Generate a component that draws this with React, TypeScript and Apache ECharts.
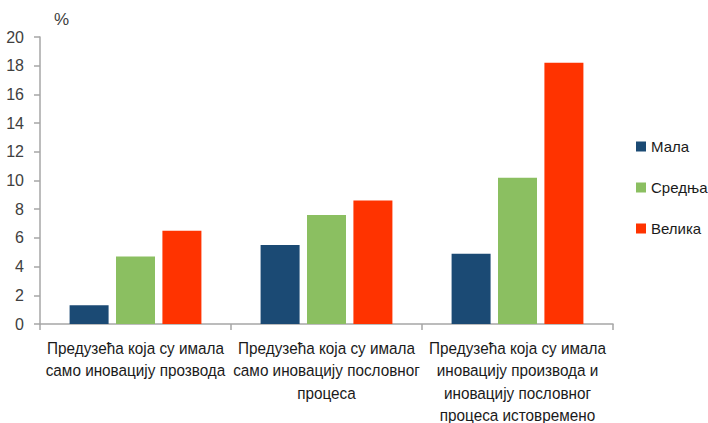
import React, { useEffect, useRef } from "react";
import * as echarts from "echarts";

const categories = [
  "Предузећа која су имала\nсамо иновацију прозвода",
  "Предузећа која су имала\nсамо иновацију пословног\nпроцеса",
  "Предузећа која су имала\nиновацију производа и\nиновацију пословног\nпроцеса истовремено",
];
const seriesNames = ["Мала", "Средња", "Велика"];
const mala = [1.3, 5.5, 4.9];
const srednja = [4.7, 7.6, 10.2];
const velika = [6.5, 8.6, 18.2];
const colors = ["#1B4A74", "#8BBF61", "#FF3300"];
const yTicks = { min: 0, max: 20, interval: 2 };

const FONT = "'Liberation Sans', Arial, sans-serif";

export default function App() {
  const ref = useRef<HTMLDivElement>(null);
  useEffect(() => {
    if (!ref.current) return;
    const chart = echarts.init(ref.current, undefined, { renderer: "svg" });
    const data = [mala, srednja, velika];
    chart.setOption({
      animation: false,
      textStyle: { fontFamily: FONT },
      grid: { left: 40, right: 95, top: 37, bottom: 99, containLabel: false, outerBoundsMode: "none" },
      legend: {
        orient: "vertical",
        left: 636,
        top: 139,
        padding: 0,
        itemWidth: 10,
        itemHeight: 10,
        itemGap: 26,
        icon: "rect",
        textStyle: { fontFamily: FONT, fontSize: 15, color: "#1a1a1a", overflow: "none", width: 80 },
        data: seriesNames,
      },
      xAxis: {
        type: "category",
        data: categories,
        boundaryGap: true,
        axisLine: { lineStyle: { color: "#A6A6A6", width: 1.5 } },
        axisTick: { show: true, length: 6, lineStyle: { color: "#A6A6A6", width: 1.5 } },
        axisLabel: { show: false },
      },
      yAxis: {
        type: "value",
        min: yTicks.min,
        max: yTicks.max,
        interval: yTicks.interval,
        splitLine: { show: false },
        axisLine: { show: true, lineStyle: { color: "#A6A6A6", width: 1.5 } },
        axisTick: { show: true, length: 6, lineStyle: { color: "#A6A6A6", width: 1.5 } },
        axisLabel: { fontFamily: FONT, fontSize: 16, color: "#404040", margin: 16 },
      },
      series: seriesNames.map((name, i) => ({
        name,
        type: "bar",
        data: data[i],
        barWidth: 39,
        barGap: "19%",
        itemStyle: { color: colors[i] },
      })),
    });
    const labels = categories.map((c, i) => {
      const x = chart.convertToPixel({ xAxisIndex: 0 }, i) as number;
      return {
        type: "text",
        x,
        y: 336.5,
        scaleX: 0.9,
        style: {
          text: c,
          fontFamily: FONT,
          fontSize: 17,
          lineHeight: 22.3,
          fill: "#1a1a1a",
          textAlign: "center",
          textVerticalAlign: "top",
        },
      };
    });
    chart.setOption({
      graphic: [
        {
          type: "text",
          left: 54,
          top: 11,
          style: { text: "%", fontFamily: FONT, fontSize: 17, fill: "#404040" },
        },
        ...labels,
      ],
    });
    return () => chart.dispose();
  }, []);
  return <div ref={ref} style={{ width: 708, height: 423, position: "absolute", left: 0, top: 0 }} />;
}
